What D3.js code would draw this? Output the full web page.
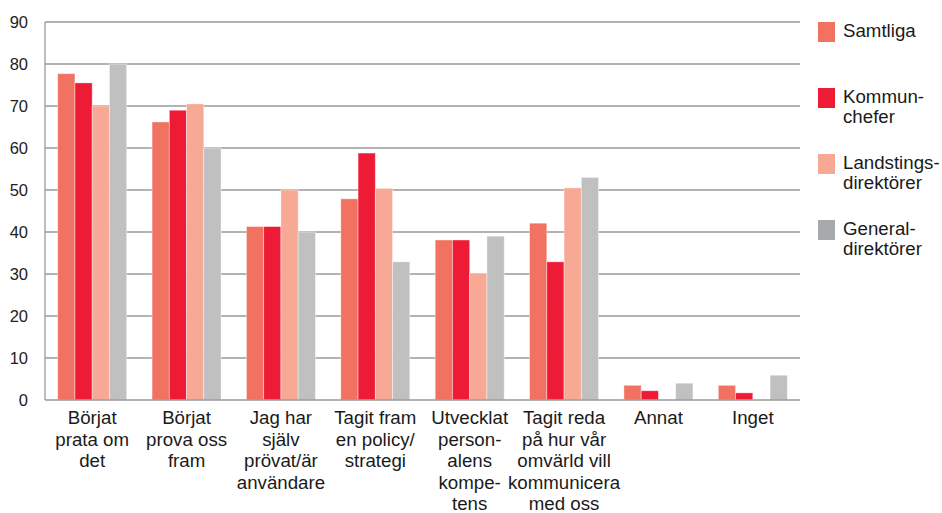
<!DOCTYPE html>
<html lang="sv">
<head>
<meta charset="UTF-8">
<title>Grupperat stapeldiagram</title>
<script src="https://d3js.org/d3.v7.min.js"></script>
<style>
    body {
        margin: 0;
        background: #fff;
        font-family: "Liberation Sans", Arial, Helvetica, sans-serif;
    }
    .tick-label { font-size: 16.5px; fill: #222; }
    .cat-label { font-size: 18.7px; fill: #1a1a1a; }
    .legend-label { font-size: 18.7px; fill: #1a1a1a; }
</style>
</head>
<body>
<div id="chart"></div>
<script>
// Kategorier (radbrytningar som i etiketterna)
const categories = [
    ["Börjat", "prata om", "det"],
    ["Börjat", "prova oss", "fram"],
    ["Jag har", "själv", "prövat/är", "användare"],
    ["Tagit fram", "en policy/", "strategi"],
    ["Utvecklat", "person-", "alens", "kompe-", "tens"],
    ["Tagit reda", "på hur vår", "omvärld vill", "kommunicera", "med oss"],
    ["Annat"],
    ["Inget"]
];

const seriesNames = ["Samtliga", "Kommunchefer", "Landstingsdirektörer", "Generaldirektörer"];
const legendLines = [["Samtliga"], ["Kommun-", "chefer"], ["Landstings-", "direktörer"], ["General-", "direktörer"]];

const samtliga = [77.7, 66.2, 41.3, 47.9, 38.1, 42.1, 3.5, 3.5];
const kommunchefer = [75.5, 69.0, 41.3, 58.8, 38.1, 32.9, 2.2, 1.7];
const landstingsdirektorer = [70.0, 70.5, 50.0, 50.4, 30.2, 50.5, 0, 0];
const generaldirektorer = [80.0, 60.0, 40.0, 32.9, 39.0, 53.0, 4.0, 5.9];

const yTicks = [0, 10, 20, 30, 40, 50, 60, 70, 80, 90];

const barColors = ["#f17261", "#ed1b36", "#f7a996", "#c0c0c0"];
const legendColors = ["#f17261", "#ed1b36", "#f7a996", "#a7a9ac"];

const width = 942, height = 513;
const plot = { left: 45, right: 800, top: 22, bottom: 400 };

const svg = d3.select("#chart").append("svg")
    .attr("width", width)
    .attr("height", height);

const x0 = d3.scaleBand()
    .domain(d3.range(categories.length))
    .range([plot.left, plot.right])
    .padding(0);

const groupPad = (x0.bandwidth() - 69) / 2;
const x1 = d3.scaleBand()
    .domain(seriesNames)
    .range([groupPad, x0.bandwidth() - groupPad]);

const y = d3.scaleLinear()
    .domain([0, 90])
    .range([plot.bottom, plot.top]);

const color = d3.scaleOrdinal().domain(seriesNames).range(barColors);

// Stödlinjer
svg.append("g")
    .selectAll("line")
    .data(yTicks.filter(d => d > 0))
    .join("line")
    .attr("x1", plot.left)
    .attr("x2", plot.right)
    .attr("y1", d => y(d))
    .attr("y2", d => y(d))
    .attr("stroke", "#9a9a9a")
    .attr("stroke-width", 1.3);

// Y-axelns etiketter
svg.append("g")
    .selectAll("text")
    .data(yTicks)
    .join("text")
    .attr("class", "tick-label")
    .attr("x", 28)
    .attr("y", d => y(d))
    .attr("dy", "0.36em")
    .attr("text-anchor", "end")
    .text(d => d);

// Staplar
const table = categories.map((c, i) => ({
    index: i,
    values: [samtliga[i], kommunchefer[i], landstingsdirektorer[i], generaldirektorer[i]]
}));

const groups = svg.append("g")
    .selectAll("g")
    .data(table)
    .join("g")
    .attr("transform", d => `translate(${x0(d.index)},0)`);

groups.selectAll("rect")
    .data(d => d.values.map((v, k) => ({ key: seriesNames[k], value: v })))
    .join("rect")
    .attr("x", d => x1(d.key))
    .attr("width", x1.bandwidth())
    .attr("y", d => y(d.value))
    .attr("height", d => y(0) - y(d.value))
    .attr("fill", d => color(d.key))
    .attr("stroke", "rgba(255,255,255,0.5)")
    .attr("stroke-width", 0.8);

// Axellinjer
svg.append("line")
    .attr("x1", plot.left).attr("x2", plot.left)
    .attr("y1", plot.top).attr("y2", plot.bottom)
    .attr("stroke", "#9a9a9a").attr("stroke-width", 1.3);
svg.append("line")
    .attr("x1", plot.left).attr("x2", plot.right)
    .attr("y1", plot.bottom).attr("y2", plot.bottom)
    .attr("stroke", "#9a9a9a").attr("stroke-width", 1.3);

// Kategorietiketter
const catText = svg.append("g")
    .selectAll("text")
    .data(categories)
    .join("text")
    .attr("class", "cat-label")
    .attr("text-anchor", "middle")
    .attr("x", (d, i) => x0(i) + x0.bandwidth() / 2)
    .attr("y", 424);

catText.selectAll("tspan")
    .data(d => d)
    .join("tspan")
    .attr("x", function () { return d3.select(this.parentNode).attr("x"); })
    .attr("dy", (d, i) => i === 0 ? 0 : 21.5)
    .text(d => d);

// Teckenförklaring
const legend = svg.append("g")
    .selectAll("g")
    .data(seriesNames)
    .join("g")
    .attr("transform", (d, i) => `translate(818,${22 + i * 66})`);

legend.append("rect")
    .attr("width", 17)
    .attr("height", 20)
    .attr("fill", (d, i) => legendColors[i]);

legend.append("text")
    .attr("class", "legend-label")
    .attr("y", 15)
    .selectAll("tspan")
    .data((d, i) => legendLines[i])
    .join("tspan")
    .attr("x", 25)
    .attr("dy", (d, i) => i === 0 ? 0 : 20)
    .text(d => d);
</script>
</body>
</html>
